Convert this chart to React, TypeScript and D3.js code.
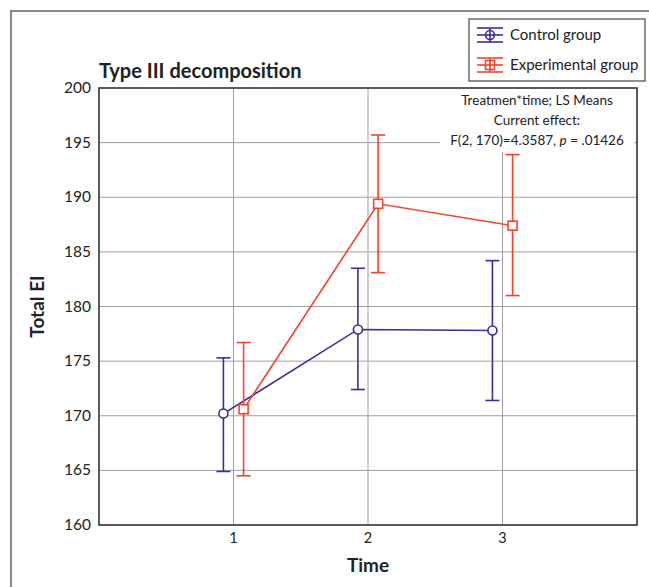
import React from "react";
import * as d3 from "d3";

const times = [1, 2, 3];
const controlMeans = [170.2, 177.9, 177.8];
const controlUpper = [175.3, 183.5, 184.2];
const controlLower = [164.9, 172.4, 171.4];
const expMeans = [170.6, 189.4, 187.4];
const expUpper = [176.7, 195.7, 193.9];
const expLower = [164.5, 183.1, 181.0];
const yTicks = [160, 165, 170, 175, 180, 185, 190, 195, 200];
const seriesNames = ["Control group", "Experimental group"];
const annotation = ["Treatmen*time; LS Means", "Current effect:"];

const BLUE = "#3a2f96";
const RED = "#f0452a";
const FONT = "Lato, 'Open Sans', sans-serif";

const W = 649;
const H = 587;
const plot = { left: 99, right: 637, top: 88, bottom: 525 };

export default function App() {
  const x = d3.scaleLinear().domain([0, 4]).range([plot.left, plot.right]);
  const y = d3.scaleLinear().domain([160, 200]).range([plot.bottom, plot.top]);
  const offset = 0.075; // horizontal dodge between groups

  const series = [
    { name: seriesNames[0], color: BLUE, mean: controlMeans, up: controlUpper, lo: controlLower, dx: -offset, marker: "circle" },
    { name: seriesNames[1], color: RED, mean: expMeans, up: expUpper, lo: expLower, dx: offset, marker: "square" },
  ];

  return (
    <svg width={W} height={H} style={{ position: "absolute", left: 0, top: 0 }} fontFamily={FONT}>
      <rect width={W} height={H} fill="#fff" />
      {/* outer frame */}
      <path d={`M11,${H} V11 H${W}`} fill="none" stroke="#888" strokeWidth={2} />

      {/* grid */}
      {yTicks.slice(1, -1).map((t) => (
        <line key={t} x1={plot.left} x2={plot.right} y1={y(t)} y2={y(t)} stroke="#a0a0a0" strokeWidth={1} />
      ))}
      {times.map((t) => (
        <line key={t} x1={x(t)} x2={x(t)} y1={plot.top} y2={plot.bottom} stroke="#a0a0a0" strokeWidth={1} />
      ))}

      {/* annotation box */}
      <rect x={440} y={plot.top} width={194} height={64} fill="#fff" />
      <g fontSize={13.5} textAnchor="middle" fill="#222">
        <text x={537} y={105}>{annotation[0]}</text>
        <text x={537} y={125}>{annotation[1]}</text>
        <text x={537} y={145}>
          F(2, 170)=4.3587, <tspan fontStyle="italic">p</tspan> = .01426
        </text>
      </g>

      {/* plot border */}
      <rect
        x={plot.left}
        y={plot.top}
        width={plot.right - plot.left}
        height={plot.bottom - plot.top}
        fill="none"
        stroke="#333"
        strokeWidth={1.6}
      />

      {/* series */}
      {series.map((s) => {
        const xs = (i: number) => x(times[i] + s.dx);
        const path = d3
          .line<number>()
          .x((_, i) => xs(i))
          .y((d) => y(d))(s.mean);
        return (
          <g key={s.name} stroke={s.color} strokeWidth={1.6} fill="none">
            <path d={path ?? ""} />
            {s.mean.map((m, i) => (
              <g key={i}>
                <line x1={xs(i)} x2={xs(i)} y1={y(s.up[i])} y2={y(s.lo[i])} />
                <line x1={xs(i) - 7} x2={xs(i) + 7} y1={y(s.up[i])} y2={y(s.up[i])} />
                <line x1={xs(i) - 7} x2={xs(i) + 7} y1={y(s.lo[i])} y2={y(s.lo[i])} />
                {s.marker === "circle" ? (
                  <circle cx={xs(i)} cy={y(m)} r={4.5} fill="#fff" />
                ) : (
                  <rect x={xs(i) - 4.5} y={y(m) - 4.5} width={9} height={9} fill="#fff" />
                )}
              </g>
            ))}
          </g>
        );
      })}

      {/* y axis labels */}
      <g fontSize={15.5} textAnchor="end" fill="#222">
        {yTicks.map((t) => (
          <text key={t} x={91} y={y(t) + 5}>
            {t}
          </text>
        ))}
      </g>
      {/* x axis labels */}
      <g fontSize={14.5} textAnchor="middle" fill="#222">
        {times.map((t) => (
          <text key={t} x={x(t)} y={543}>
            {t}
          </text>
        ))}
      </g>

      <text x={x(2)} y={572} fontSize={19} fontWeight="bold" textAnchor="middle" fill="#222">
        Time
      </text>
      <text
        transform={`translate(44, ${(plot.top + plot.bottom) / 2}) rotate(-90)`}
        fontSize={19}
        fontWeight="bold"
        textAnchor="middle"
        fill="#222"
      >
        Total EI
      </text>
      <text x={99} y={78} fontSize={20} fontWeight="bold" fill="#222">
        Type III decomposition
      </text>

      {/* legend */}
      <rect x={469} y={19} width={176} height={62} fill="#fff" stroke="#444" strokeWidth={1.2} />
      {series.map((s, i) => {
        const cy = 35 + i * 30;
        const cx = 490;
        return (
          <g key={s.name}>
            <g stroke={s.color} strokeWidth={1.6} fill="none">
              <line x1={cx - 13} x2={cx + 13} y1={cy} y2={cy} />
              <line x1={cx - 13} x2={cx + 13} y1={cy - 7} y2={cy - 7} />
              <line x1={cx - 13} x2={cx + 13} y1={cy + 7} y2={cy + 7} />
              <line x1={cx} x2={cx} y1={cy - 7} y2={cy + 7} />
              {s.marker === "circle" ? (
                <circle cx={cx} cy={cy} r={4.5} fill="#fff" />
              ) : (
                <rect x={cx - 4.5} y={cy - 4.5} width={9} height={9} fill="#fff" />
              )}
              <line x1={cx} x2={cx} y1={cy - 4.5} y2={cy + 4.5} />
              <line x1={cx - 4.5} x2={cx + 4.5} y1={cy} y2={cy} />
            </g>
            <text x={510} y={cy + 5} fontSize={15} fill="#222">
              {s.name}
            </text>
          </g>
        );
      })}
    </svg>
  );
}
